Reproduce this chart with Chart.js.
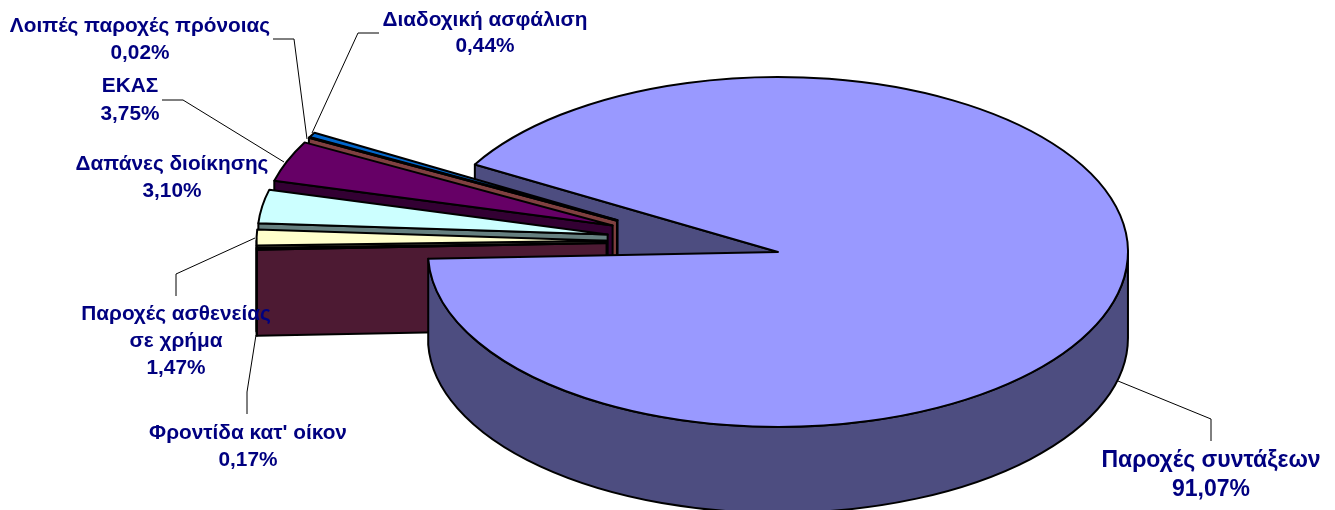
<!DOCTYPE html>
<html lang="el">
<head>
<meta charset="utf-8">
<title>Παροχές</title>
<script src="https://cdn.jsdelivr.net/npm/chart.js@4"></script>
<style>
    html, body { margin: 0; padding: 0; background: #fff; }
    canvas { display: block; }
</style>
</head>
<body>
<canvas id="myChart" width="1335" height="510"></canvas>
<script>
const categories = [
    ['Παροχές συντάξεων'],
    ['Φροντίδα κατ\' οίκον'],
    ['Παροχές ασθενείας', 'σε χρήμα'],
    ['Δαπάνες διοίκησης'],
    ['ΕΚΑΣ'],
    ['Λοιπές παροχές πρόνοιας'],
    ['Διαδοχική ασφάλιση'],
];
const values = [91.07, 0.17, 1.47, 3.10, 3.75, 0.02, 0.44];

const sliceColors = ['#9999FF', '#993366', '#FFFFCC', '#CCFFFF', '#660066', '#FF8080', '#0066CC'];
const wallColors = ['#4D4D80', '#4D1A33', '#808066', '#668080', '#330033', '#804040', '#003366'];

// label centre x, y of each text line, font size
const labelSpots = [
    { x: 1211, y: [461, 490], size: 23 },
    { x: 248, y: [433, 460], size: 20.8 },
    { x: 176, y: [314, 341, 368], size: 20.8 },
    { x: 172, y: [164, 191], size: 20.8 },
    { x: 130, y: [86, 114], size: 20.8 },
    { x: 140, y: [26, 53], size: 20.8 },
    { x: 485, y: [20, 46], size: 20.8 },
];
const leaderLines = [
    [[1118, 381], [1211, 419], [1211, 441]],
    [[256, 335], [247, 392], [247, 414]],
    [[255, 238], [176, 274], [176, 296]],
    [],
    [[162, 100], [183, 100], [284, 162]],
    [[273, 39], [294, 39], [307, 139]],
    [[379, 33], [358, 33], [312, 133]],
];

const squash = 0.5;     // ellipse height / width
const depth = 86;       // height of the pie walls
const explode = 87;     // every slice is pulled out by this much

const slicePlace = (arc) => {
    const mid = (arc.startAngle + arc.endAngle) / 2;
    return {
        x: arc.x + Math.cos(mid) * explode,
        y: arc.y + Math.sin(mid) * explode * squash,
    };
};

const drawFace = (ctx, arc) => {
    const p = slicePlace(arc);
    const r = arc.outerRadius;
    const ax = p.x + Math.cos(arc.startAngle) * r;
    const ay = p.y + Math.sin(arc.startAngle) * r * squash;
    ctx.beginPath();
    ctx.moveTo(p.x, p.y);
    ctx.lineTo(ax, ay);
    ctx.lineTo(ax, ay + depth);
    ctx.lineTo(p.x, p.y + depth);
    ctx.closePath();
    ctx.fill();
    ctx.stroke();
};

const drawRim = (ctx, arc) => {
    const p = slicePlace(arc);
    const r = arc.outerRadius;
    // only the part of the rim turned towards the viewer (0..180 deg, +360 turns)
    for (let k = 0; k < 2; k++) {
        const from = Math.max(arc.startAngle, k * 2 * Math.PI);
        const to = Math.min(arc.endAngle, k * 2 * Math.PI + Math.PI);
        if (to <= from) continue;
        ctx.beginPath();
        ctx.ellipse(p.x, p.y, r, r * squash, 0, from, to);
        ctx.ellipse(p.x, p.y + depth, r, r * squash, 0, to, from, true);
        ctx.closePath();
        ctx.fill();
        ctx.stroke();
    }
};

const drawTop = (ctx, arc) => {
    const p = slicePlace(arc);
    const r = arc.outerRadius;
    ctx.save();
    ctx.translate(p.x, p.y);
    ctx.scale(1, squash);
    ctx.translate(-arc.x, -arc.y);
    arc.draw(ctx);
    ctx.restore();
    ctx.beginPath();
    ctx.moveTo(p.x, p.y);
    ctx.ellipse(p.x, p.y, r, r * squash, 0, arc.startAngle, arc.endAngle);
    ctx.closePath();
    ctx.stroke();
};

const pie3d = {
    id: 'pie3d',
    beforeDatasetDraw(chart, args) {
        const ctx = chart.ctx;
        const arcs = args.meta.data;
        const wall = (i) => { ctx.fillStyle = wallColors[i]; };
        ctx.save();
        ctx.strokeStyle = '#000';
        ctx.lineWidth = 2;
        ctx.lineJoin = 'round';
        // main slice cut face sits behind the small ones
        wall(0);
        drawFace(ctx, arcs[0]);
        for (let i = arcs.length - 1; i > 0; i--) {
            wall(i);
            drawFace(ctx, arcs[i]);
            drawRim(ctx, arcs[i]);
            drawTop(ctx, arcs[i]);
        }
        wall(0);
        drawRim(ctx, arcs[0]);
        drawTop(ctx, arcs[0]);
        ctx.restore();
        return false;
    },
    afterDraw(chart) {
        const ctx = chart.ctx;
        ctx.save();
        ctx.strokeStyle = '#000';
        ctx.lineWidth = 1;
        leaderLines.forEach((pts) => {
            if (!pts.length) return;
            ctx.beginPath();
            pts.forEach((pt, i) => (i ? ctx.lineTo(pt[0], pt[1]) : ctx.moveTo(pt[0], pt[1])));
            ctx.stroke();
        });
        ctx.fillStyle = '#000080';
        ctx.textAlign = 'center';
        ctx.textBaseline = 'middle';
        categories.forEach((lines, i) => {
            const spot = labelSpots[i];
            const text = lines.concat(values[i].toFixed(2).replace('.', ',') + '%');
            ctx.font = 'bold ' + spot.size + 'px "Liberation Sans", Arial, sans-serif';
            text.forEach((t, j) => ctx.fillText(t, spot.x, spot.y[j]));
        });
        ctx.restore();
    },
};

new Chart(document.getElementById('myChart'), {
    type: 'pie',
    data: {
        labels: categories.map((c) => c.join(' ')),
        datasets: [{
            data: values,
            backgroundColor: sliceColors,
            borderWidth: 0,
        }],
    },
    options: {
        responsive: false,
        animation: false,
        rotation: 300,
        radius: 350,
        layout: { padding: { left: 52, bottom: 27 } },
        plugins: {
            legend: { display: false },
            tooltip: { enabled: false },
        },
    },
    plugins: [pie3d],
});
</script>
</body>
</html>
